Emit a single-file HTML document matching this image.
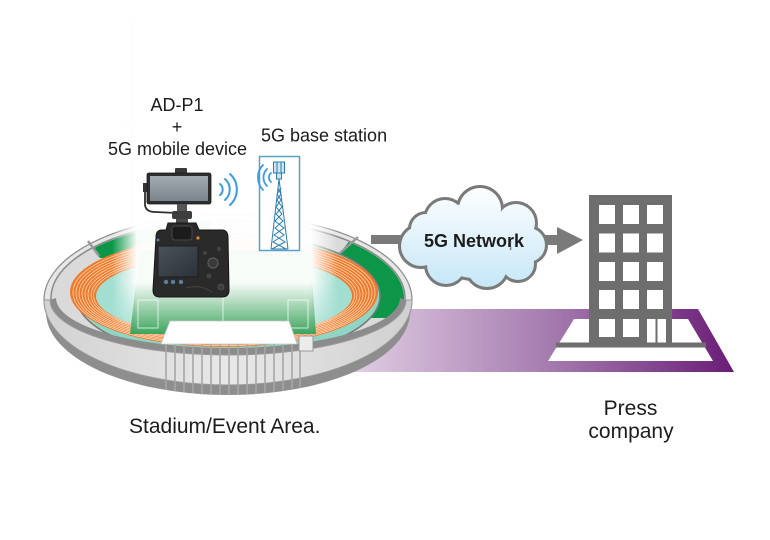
<!DOCTYPE html>
<html>
<head>
<meta charset="utf-8">
<style>
  html,body{margin:0;padding:0;background:#fff;}
  svg{display:block;}
  text{font-family:"Liberation Sans",Arial,sans-serif;fill:#1c1c1c;}
</style>
</head>
<body>
<svg width="770" height="540" viewBox="0 0 770 540" xmlns="http://www.w3.org/2000/svg">
  <defs>
    <linearGradient id="purp" x1="280" y1="0" x2="734" y2="0" gradientUnits="userSpaceOnUse">
      <stop offset="0" stop-color="#f4ecf5"/>
      <stop offset="0.25" stop-color="#d4bcd8"/>
      <stop offset="0.6" stop-color="#a47aae"/>
      <stop offset="1" stop-color="#6a1c76"/>
    </linearGradient>
    <linearGradient id="cloudg" x1="0" y1="185" x2="0" y2="290" gradientUnits="userSpaceOnUse">
      <stop offset="0" stop-color="#ffffff"/>
      <stop offset="1" stop-color="#c4e6f6"/>
    </linearGradient>
    <linearGradient id="scr" x1="0" y1="0" x2="0" y2="1">
      <stop offset="0" stop-color="#a4acb3"/>
      <stop offset="1" stop-color="#7a838b"/>
    </linearGradient>
    <linearGradient id="lcd" x1="0" y1="0" x2="1" y2="1">
      <stop offset="0" stop-color="#4a525b"/>
      <stop offset="1" stop-color="#2c3137"/>
    </linearGradient>
    <linearGradient id="wallg" x1="0" y1="0" x2="1" y2="0">
      <stop offset="0" stop-color="#d2d2d2"/>
      <stop offset="0.5" stop-color="#e8e8e8"/>
      <stop offset="1" stop-color="#d0d0d0"/>
    </linearGradient>
    <linearGradient id="gh" x1="112" y1="0" x2="338" y2="0" gradientUnits="userSpaceOnUse">
      <stop offset="0" stop-color="#ffffff" stop-opacity="0"/>
      <stop offset="0.11" stop-color="#ffffff" stop-opacity="0.97"/>
      <stop offset="0.88" stop-color="#ffffff" stop-opacity="0.97"/>
      <stop offset="1" stop-color="#ffffff" stop-opacity="0"/>
    </linearGradient>
    <linearGradient id="gv" x1="0" y1="30" x2="0" y2="338" gradientUnits="userSpaceOnUse">
      <stop offset="0" stop-color="#ffffff"/>
      <stop offset="0.82" stop-color="#ffffff"/>
      <stop offset="1" stop-color="#000000"/>
    </linearGradient>
    <mask id="glowMask" maskUnits="userSpaceOnUse" x="0" y="0" width="770" height="540">
      <rect x="100" y="20" width="250" height="330" fill="url(#gv)"/>
    </mask>
    <clipPath id="greenR">
      <polygon points="340,253 364,222 470,222 470,318 330,318"/>
    </clipPath>
    <clipPath id="greenL">
      <polygon points="86,240 100,258 210,258 210,190 70,190"/>
    </clipPath>
    <clipPath id="skirtClip">
      <ellipse cx="228" cy="312" rx="182" ry="83"/>
    </clipPath>
  </defs>

  <!-- Purple band -->
  <polygon points="280,309 698,309 734,372 280,372" fill="url(#purp)"/>
  <!-- white base trapezoid -->
  <polygon points="574,319 688,319 713,361 548,361" fill="#ffffff"/>
  <!-- Building -->
  <rect x="589" y="195" width="83" height="148" fill="#6e6e6e"/>
  <rect x="556" y="342.5" width="150" height="5" fill="#6e6e6e"/>
  <g fill="#ffffff">
    <rect x="599" y="205" width="16" height="19"/>
    <rect x="623" y="205" width="16" height="19"/>
    <rect x="647" y="205" width="16" height="19"/>
    <rect x="599" y="233.5" width="16" height="19"/>
    <rect x="623" y="233.5" width="16" height="19"/>
    <rect x="647" y="233.5" width="16" height="19"/>
    <rect x="599" y="262" width="16" height="19"/>
    <rect x="623" y="262" width="16" height="19"/>
    <rect x="647" y="262" width="16" height="19"/>
    <rect x="599" y="290" width="16" height="19"/>
    <rect x="623" y="290" width="16" height="19"/>
    <rect x="647" y="290" width="16" height="19"/>
    <rect x="599" y="319" width="16" height="18"/>
    <rect x="623" y="319" width="16" height="18"/>
    <rect x="647" y="319" width="8.5" height="23.5"/>
    <rect x="657.5" y="319" width="8.5" height="23.5"/>
  </g>

  <!-- Stadium -->
  <ellipse cx="228" cy="312" rx="182" ry="83" fill="#8e8e8e"/>
  <ellipse cx="228" cy="300" rx="184" ry="85" fill="#e6e6e6" stroke="#8a8a8a" stroke-width="1.2"/>
  <ellipse cx="228" cy="298" rx="177" ry="78" fill="#dadada" stroke="#8a8a8a" stroke-width="1.5"/>
  <!-- green stands -->
  <ellipse cx="228" cy="298" rx="176" ry="77" fill="#0b9747" clip-path="url(#greenR)"/>
  <ellipse cx="228" cy="298" rx="176" ry="77" fill="#0b9747" clip-path="url(#greenL)"/>
  <line x1="340" y1="253" x2="358" y2="237" stroke="#9a9a9a" stroke-width="2.5"/>
  <line x1="88" y1="241" x2="99" y2="256" stroke="#9a9a9a" stroke-width="2.5"/>
  <!-- teal concourse -->
  <ellipse cx="228" cy="296" rx="152" ry="62" fill="#8fd5c4" stroke="#7a7a7a" stroke-width="1.5"/>
  <!-- orange track -->
  <ellipse cx="224" cy="292" rx="154" ry="55" fill="#f07a2a"/>
  <g fill="none" stroke="#ffd6b8" stroke-width="0.8">
    <ellipse cx="224" cy="292.5" rx="151" ry="53.2"/>
    <ellipse cx="224" cy="293" rx="148" ry="51.4"/>
    <ellipse cx="224" cy="293.4" rx="145" ry="49.6"/>
    <ellipse cx="224" cy="293.8" rx="142" ry="47.8"/>
    <ellipse cx="224" cy="294.2" rx="139" ry="46"/>
    <ellipse cx="224" cy="294.6" rx="136" ry="44.2"/>
    <ellipse cx="224" cy="295" rx="133" ry="42.4"/>
    <ellipse cx="224" cy="295.4" rx="130.5" ry="41"/>
  </g>
  <!-- inner field -->
  <ellipse cx="224" cy="296" rx="128" ry="40" fill="#a3dfd0"/>
  <polygon points="140,250 310,250 316,334 130,334" fill="#2f9e52"/>
  <g stroke="#bfe6c9" stroke-width="1" fill="none">
    <rect x="138" y="300" width="20" height="28"/>
    <rect x="288" y="300" width="20" height="28"/>
    <line x1="223" y1="255" x2="223" y2="334"/>
  </g>
  <!-- front inner strip -->
  <path d="M 50,300 A 178 55 0 0 0 406,300 L 400,298 A 172 50 0 0 1 56,298 Z" fill="#8c8c8c"/>
  <!-- front wall -->
  <path d="M 44,300 A 184 85 0 0 0 412,300 L 406,300 A 178 55 0 0 1 50,300 Z" fill="url(#wallg)" stroke="#9a9a9a" stroke-width="1"/>
  <!-- columns -->
  <g clip-path="url(#skirtClip)" stroke="#a6a6a6" stroke-width="1.6">
    <line x1="166" y1="343" x2="166" y2="400"/>
    <line x1="175" y1="343" x2="175" y2="400"/>
    <line x1="184" y1="343" x2="184" y2="400"/>
    <line x1="193" y1="343" x2="193" y2="400"/>
    <line x1="202" y1="343" x2="202" y2="400"/>
    <line x1="211" y1="343" x2="211" y2="400"/>
    <line x1="220" y1="343" x2="220" y2="400"/>
    <line x1="229" y1="343" x2="229" y2="400"/>
    <line x1="238" y1="343" x2="238" y2="400"/>
    <line x1="247" y1="343" x2="247" y2="400"/>
    <line x1="256" y1="343" x2="256" y2="400"/>
    <line x1="265" y1="343" x2="265" y2="400"/>
    <line x1="274" y1="343" x2="274" y2="400"/>
    <line x1="283" y1="343" x2="283" y2="400"/>
    <line x1="292" y1="343" x2="292" y2="400"/>
    <line x1="300" y1="343" x2="300" y2="400"/>
  </g>

  <!-- white glow -->
  <rect x="112" y="20" width="226" height="330" fill="url(#gh)" mask="url(#glowMask)"/>

  <!-- white panel -->
  <polygon points="170,321 289,321 297,344 161,344" fill="#ffffff" stroke="#c8c8c8" stroke-width="0.8"/>
  <!-- small box -->
  <rect x="299" y="336" width="14" height="15" fill="#ececec" stroke="#9a9a9a" stroke-width="1"/>

  <!-- Camera + monitor -->
  <path d="M 145,190 L 145,205 Q 146,212 155,212 L 177,213" fill="none" stroke="#2e2e2e" stroke-width="1.8"/>
  <rect x="143" y="183" width="5" height="9" fill="#333"/>
  <rect x="175" y="168" width="12" height="6" rx="1" fill="#3a3a3a"/>
  <rect x="147" y="173" width="64" height="31" rx="2" fill="#2e2e2e" stroke="#1a1a1a" stroke-width="0.8"/>
  <rect x="150" y="176" width="58" height="25" fill="url(#scr)"/>
  <rect x="177" y="204" width="10" height="8" fill="#555"/>
  <rect x="172" y="211" width="20" height="8" rx="2" fill="#3d3d3d"/>
  <rect x="176" y="219" width="12" height="7" fill="#4a4a4a"/>
  <path d="M 156,237 Q 156,230 162,230 L 166,230 L 168,223 L 196,223 L 199,230 L 222,230 Q 228,230 228,238 L 229,290 Q 229,297 222,297 L 160,297 Q 153,297 153,290 Z" fill="#2a2a2a" stroke="#151515" stroke-width="1"/>
  <rect x="172" y="226" width="20" height="14" rx="3" fill="#1c1c1c" stroke="#484848" stroke-width="1"/>
  <rect x="158" y="246" width="40" height="31" fill="url(#lcd)" stroke="#1e1e1e" stroke-width="1"/>
  <g fill="#5a7fa3">
    <circle cx="166" cy="282" r="2.2"/>
    <circle cx="173" cy="282" r="2.2"/>
    <circle cx="181" cy="282" r="2.2"/>
    <circle cx="158" cy="240" r="1.5"/>
  </g>
  <circle cx="198" cy="238" r="1.6" fill="#d98a2b"/>
  <circle cx="213" cy="263" r="5" fill="#3a3a3a" stroke="#5a5a5a" stroke-width="1.2"/>
  <circle cx="205" cy="253" r="2" fill="#444"/>
  <circle cx="219" cy="249" r="2" fill="#444"/>
  <circle cx="209" cy="276" r="2.5" fill="#444"/>
  <circle cx="221" cy="287" r="3" fill="#3c3c3c" stroke="#555" stroke-width="0.8"/>
  <path d="M 186,288 Q 200,284 212,292" fill="none" stroke="#444" stroke-width="1"/>

  <!-- wifi waves from camera -->
  <g fill="none" stroke="#3a9be0" stroke-width="2" stroke-linecap="round">
    <path d="M 220,184 A 7 7 0 0 1 220,195"/>
    <path d="M 225,179 A 14 14 0 0 1 225,200"/>
    <path d="M 230,174 A 21 21 0 0 1 230,205"/>
  </g>

  <!-- Tower box -->
  <rect x="259.5" y="156.5" width="40" height="94" fill="#ffffff" stroke="#5a9fc5" stroke-width="1.5"/>
  <g fill="none" stroke="#3a9be0" stroke-width="1.8" stroke-linecap="round">
    <path d="M 271,173 A 6 6 0 0 0 271,182"/>
    <path d="M 267,169 A 12 12 0 0 0 267,186"/>
    <path d="M 263,165 A 18 18 0 0 0 263,190"/>
  </g>
  <g stroke="#2b7db0" fill="none" stroke-width="1">
    <rect x="273.5" y="162" width="11" height="11" fill="#cfe5f2"/>
    <line x1="277" y1="162" x2="277" y2="173"/>
    <line x1="281" y1="162" x2="281" y2="173"/>
    <rect x="276.5" y="173" width="5" height="6" fill="#cfe5f2"/>
    <line x1="279" y1="179" x2="271" y2="249"/>
    <line x1="279" y1="179" x2="288" y2="249"/>
    <polyline points="278,188 281,194 277,200 282,207 276,214 283,221 275,228 284,235 273,242 286,249"/>
    <polyline points="281,188 277,194 281,200 276,207 282,214 275,221 284,228 274,235 285,242 272,249"/>
    <line x1="271" y1="249" x2="288" y2="249"/>
  </g>

  <!-- Arrows -->
  <rect x="371" y="235" width="32" height="9" fill="#7a7a7a"/>
  <rect x="540" y="235" width="19" height="10" fill="#7a7a7a"/>
  <polygon points="557,227 583,240 557,254" fill="#7a7a7a"/>

  <!-- Cloud -->
  <g fill="#7a7a7a" stroke="#7a7a7a" stroke-width="6">
    <circle cx="473" cy="240" r="38"/>
    <circle cx="445" cy="219" r="19"/>
    <circle cx="480" cy="209" r="21"/>
    <circle cx="516" cy="223" r="19"/>
    <circle cx="528" cy="245" r="17"/>
    <circle cx="518" cy="264" r="16"/>
    <circle cx="487" cy="267" r="20"/>
    <circle cx="446" cy="265" r="19"/>
    <circle cx="421" cy="246" r="20"/>
    <circle cx="426" cy="229" r="15"/>
  </g>
  <g fill="url(#cloudg)">
    <circle cx="473" cy="240" r="38"/>
    <circle cx="445" cy="219" r="19"/>
    <circle cx="480" cy="209" r="21"/>
    <circle cx="516" cy="223" r="19"/>
    <circle cx="528" cy="245" r="17"/>
    <circle cx="518" cy="264" r="16"/>
    <circle cx="487" cy="267" r="20"/>
    <circle cx="446" cy="265" r="19"/>
    <circle cx="421" cy="246" r="20"/>
    <circle cx="426" cy="229" r="15"/>
  </g>
  <text x="474" y="247" font-size="18" font-weight="bold" text-anchor="middle" fill="#111">5G Network</text>

  <!-- Labels -->
  <text x="177" y="111" font-size="18" text-anchor="middle">AD-P1</text>
  <text x="177" y="133" font-size="18" text-anchor="middle">+</text>
  <text x="177.5" y="155" font-size="18" text-anchor="middle">5G mobile device</text>
  <text x="261" y="141.7" font-size="18">5G base station</text>
  <text x="129" y="433" font-size="21">Stadium/Event Area.</text>
  <text x="630.5" y="415" font-size="21" text-anchor="middle">Press</text>
  <text x="631" y="438" font-size="21" text-anchor="middle">company</text>
</svg>
</body>
</html>
